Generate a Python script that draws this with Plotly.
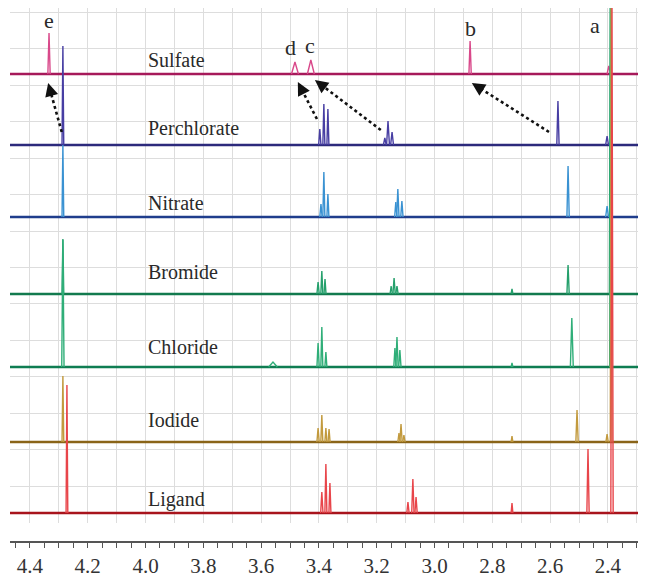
import plotly.graph_objects as go

# ---------------- data ----------------
x_left, x_right = 4.469, 2.296
tick_vals = [4.4, 4.3, 4.2, 4.1, 4.0, 3.9, 3.8, 3.7, 3.6, 3.5, 3.4, 3.3, 3.2, 3.1, 3.0, 2.9, 2.8, 2.7, 2.6, 2.5, 2.4, 2.3]
tick_text = ["4.4", "", "4.2", "", "4.0", "", "3.8", "", "3.6", "", "3.4", "", "3.2", "", "3.0", "", "2.8", "", "2.6", "", "2.4", ""]
minor_vals = [4.45, 4.35, 4.25, 4.15, 4.05, 3.95, 3.85, 3.75, 3.65, 3.55, 3.45, 3.35, 3.25, 3.15, 3.05, 2.95, 2.85, 2.75, 2.65, 2.55, 2.45, 2.35]

names = ["Sulfate", "Perchlorate", "Nitrate", "Bromide", "Chloride", "Iodide", "Ligand"]
offsets = [468, 397, 325, 248, 175, 100, 29]
label_y = [482, 414, 339, 270, 195, 122, 42]

# peaks: (ppm, height, half width in ppm)
sulfate_peaks = [(4.334, 41, 0.004), (3.483, 12, 0.012), (3.428, 14, 0.012), (2.877, 33, 0.004), (2.397, 8, 0.006)]
perchlorate_peaks = [(4.286, 99, 0.003), (3.397, 16, 0.004), (3.383, 41, 0.0035), (3.369, 36, 0.0035),
                     (3.172, 7, 0.005), (3.161, 24, 0.005), (3.147, 13, 0.005), (2.573, 44, 0.004), (2.403, 9, 0.005)]
nitrate_peaks = [(4.286, 72, 0.003), (3.393, 13, 0.004), (3.383, 45, 0.0035), (3.369, 23, 0.0035),
                 (3.134, 15, 0.004), (3.127, 28, 0.004), (3.113, 16, 0.004), (2.538, 51, 0.004), (2.403, 11, 0.005)]
bromide_peaks = [(4.286, 55, 0.003), (3.403, 12, 0.004), (3.390, 23, 0.0035), (3.379, 15, 0.0035),
                 (3.150, 8, 0.004), (3.140, 16, 0.004), (3.130, 8, 0.004), (2.732, 5, 0.003),
                 (2.538, 29, 0.004), (2.392, 292, 0.003)]
chloride_peaks = [(4.286, 127, 0.004), (3.559, 5, 0.015), (3.403, 24, 0.004), (3.390, 40, 0.0035), (3.376, 15, 0.0035),
                  (3.137, 19, 0.004), (3.130, 30, 0.004), (3.120, 17, 0.004), (2.732, 4, 0.003),
                  (2.525, 49, 0.005), (2.391, 365, 0.003)]
iodide_peaks = [(4.286, 66, 0.003), (3.403, 14, 0.004), (3.390, 27, 0.0035), (3.376, 14, 0.0035), (3.365, 13, 0.0035),
                (3.123, 9, 0.004), (3.116, 18, 0.004), (3.106, 7, 0.004), (2.732, 6, 0.003),
                (2.507, 32, 0.004), (2.403, 8, 0.004), (2.389, 440, 0.003)]
ligand_peaks = [(4.272, 128, 0.003), (3.390, 21, 0.004), (3.376, 49, 0.0035), (3.362, 30, 0.0035),
                (3.092, 11, 0.004), (3.075, 34, 0.004), (3.064, 16, 0.004), (2.732, 10, 0.003),
                (2.469, 64, 0.004), (2.386, 511, 0.004)]
all_peaks = [sulfate_peaks, perchlorate_peaks, nitrate_peaks, bromide_peaks, chloride_peaks, iodide_peaks, ligand_peaks]

base_colors = ["#a6195a", "#2c2a7c", "#1f3d8c", "#127a4e", "#0f7d52", "#8a6418", "#a8141c"]
peak_colors = ["#d9488a", "#473ea3", "#3a92d2", "#25a06c", "#2fae78", "#c29a3e", "#e8454a"]

# peak assignment letters
letters = ["e", "d", "c", "b", "a"]
letter_x = [4.334, 3.497, 3.431, 2.874, 2.445]
letter_y = [522, 495, 497, 514, 517]

# dotted arrows: (tail ppm, tail y, head ppm, head y)
arrows = [(4.290, 410, 4.337, 459), (3.407, 423, 3.473, 460), (3.186, 412, 3.414, 462), (2.604, 410, 2.871, 459)]

# ---------------- figure ----------------
fig = go.Figure()
serif = "Liberation Serif"

# baselines
for name, off, bc in zip(names, offsets, base_colors):
    fig.add_trace(go.Scatter(x=[x_left, x_right], y=[off, off], mode="lines",
                             line=dict(color=bc, width=2.6), hoverinfo="skip", showlegend=False))

# peaks
for name, off, peaks, pc in zip(names, offsets, all_peaks, peak_colors):
    xs, ys = [], []
    for p, h, w in peaks:
        xs += [p + w, p, p - w, None]
        ys += [off, off + h, off, None]
    fig.add_trace(go.Scatter(x=xs, y=ys, mode="lines", name=name,
                             line=dict(color=pc, width=1.4), showlegend=False))

# dotted arrow shafts
for tx, ty, hx, hy in arrows:
    fig.add_trace(go.Scatter(x=[tx, hx + (tx - hx) * 0.12], y=[ty, hy + (ty - hy) * 0.12], mode="lines",
                             line=dict(color="#111111", width=2.6, dash="dot"),
                             hoverinfo="skip", showlegend=False))
    fig.add_annotation(x=hx, y=hy, ax=hx + (tx - hx) * 0.16, ay=hy + (ty - hy) * 0.16,
                       xref="x", yref="y", axref="x", ayref="y", text="", showarrow=True,
                       arrowhead=2, arrowsize=1.1, arrowwidth=2.4, arrowcolor="#111111", standoff=0)

# spectrum labels
for name, ly in zip(names, label_y):
    fig.add_annotation(x=4.0, y=ly, xref="x", yref="y", text=name, showarrow=False,
                       xanchor="left", yanchor="middle",
                       font=dict(family=serif, size=20, color="#2a2a2a"))

# letters
for t, lx, ly in zip(letters, letter_x, letter_y):
    fig.add_annotation(x=lx, y=ly, xref="x", yref="y", text=t, showarrow=False,
                       xanchor="center", yanchor="middle",
                       font=dict(family=serif, size=22, color="#2a2a2a"))

fig.update_layout(
    width=641, height=577,
    margin=dict(l=2, r=11, t=0, b=43, autoexpand=False),
    paper_bgcolor="white", plot_bgcolor="white",
    font=dict(family=serif, color="#333333"),
    showlegend=False,
    xaxis=dict(range=[x_left, x_right], anchor="free", position=0, automargin=False,
               tickmode="array", tickvals=tick_vals, ticktext=tick_text,
               showgrid=True, gridcolor="#dddddd", gridwidth=1, zeroline=False,
               showline=True, linecolor="#555555", linewidth=1.5,
               ticks="outside", ticklen=5, tickcolor="#555555", tickwidth=1.2,
               tickfont=dict(family=serif, size=21, color="#333333"),
               minor=dict(tickmode="array", tickvals=minor_vals, ticks="outside", ticklen=5,
                          tickcolor="#555555", showgrid=False)),
    yaxis=dict(range=[19, 534], domain=[0.0356, 1], tick0=19, dtick=36.5, automargin=False,
               showgrid=True, gridcolor="#dddddd", gridwidth=1,
               showticklabels=False, zeroline=False, showline=False, ticks=""),
)

fig.write_html("out.html")
